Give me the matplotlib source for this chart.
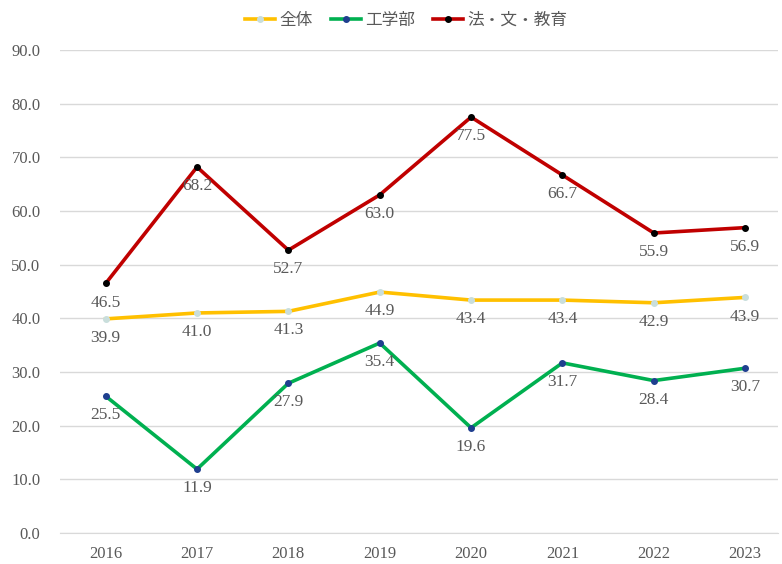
import matplotlib
matplotlib.use("Agg")
import matplotlib.pyplot as plt

years = ["2016", "2017", "2018", "2019", "2020", "2021", "2022", "2023"]
zentai = [39.9, 41.0, 41.3, 44.9, 43.4, 43.4, 42.9, 43.9]
kogaku = [25.5, 11.9, 27.9, 35.4, 19.6, 31.7, 28.4, 30.7]
hobun = [46.5, 68.2, 52.7, 63.0, 77.5, 66.7, 55.9, 56.9]
series_names = ["全体", "工学部", "法・文・教育"]
yticks = [0, 10, 20, 30, 40, 50, 60, 70, 80, 90]

fig = plt.figure(figsize=(7.82, 5.64), dpi=100)
ax = fig.add_axes([60/782, 1-533/564, (778-60)/782, (533-50)/564])

x = list(range(len(years)))
styles = [
    (zentai, "#FFC000", "#C9DEDC"),
    (kogaku, "#00B050", "#1F3F8F"),
    (hobun, "#C00000", "#000000"),
]
handles = []
for (vals, col, mcol), name in zip(styles, series_names):
    h, = ax.plot(x, vals, color=col, lw=2.6, marker="o", ms=4,
                 markerfacecolor=mcol, markeredgecolor=mcol, label=name, zorder=3)
    handles.append(h)
    for xi, v in zip(x, vals):
        ax.annotate(f"{v:.1f}", (xi, v), xytext=(0, -8), textcoords="offset points",
                    ha="center", va="top", fontsize=12.5, color="#595959",
                    family="Liberation Serif", zorder=4)

ax.set_xlim(-0.5, 7.36)
ax.set_ylim(0, 90)
ax.set_yticks(yticks)
ax.set_yticklabels([f"{v:.1f}" for v in yticks], family="Liberation Serif",
                   fontsize=12, color="#595959")
ax.set_xticks(x)
ax.set_xticklabels(years, family="Liberation Serif", fontsize=12, color="#595959")
ax.grid(axis="y", color="#D9D9D9", lw=1)
ax.set_axisbelow(True)
for s in ax.spines.values():
    s.set_visible(False)
ax.spines["bottom"].set_visible(True)
ax.spines["bottom"].set_color("#D9D9D9")
ax.tick_params(length=0, pad=9)
ax.tick_params(axis="y", pad=14)

leg = fig.legend(handles=handles, loc="center", bbox_to_anchor=(406/782, 1-20/564),
                 ncol=3, frameon=False, handlelength=1.8, columnspacing=1.1,
                 handletextpad=0.25,
                 prop={"family": ["Noto Sans CJK JP", "DejaVu Sans"], "size": 12})
for t in leg.get_texts():
    t.set_color("#595959")

fig.savefig("out.png", dpi=100)
